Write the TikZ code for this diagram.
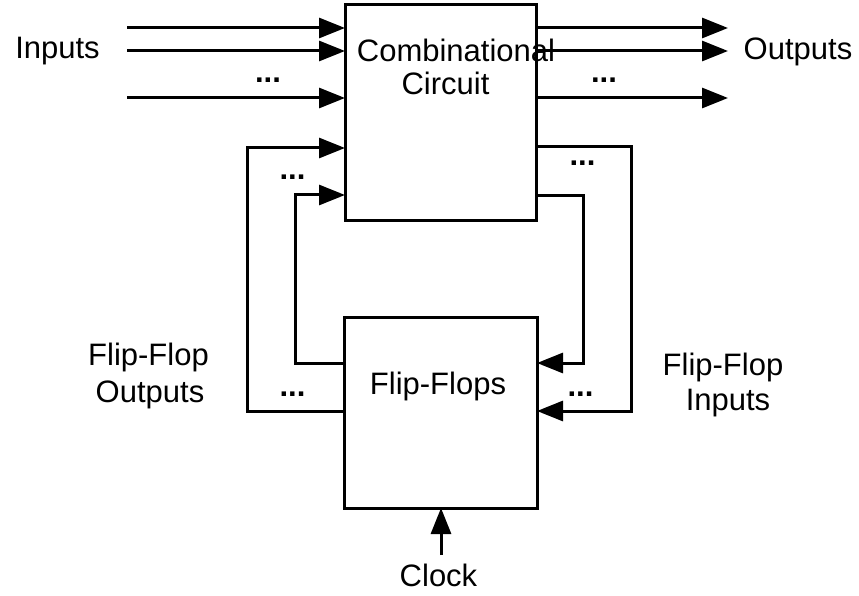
\documentclass[tikz,border=0pt]{standalone}
\usepackage{fontspec}
\setmainfont{Liberation Sans}
\usetikzlibrary{arrows.meta}
\begin{document}
\begin{tikzpicture}[x=1pt,y=-1pt,
  wire/.style={line width=3pt},
  sig/.style={wire,-{Triangle[length=26pt,width=20pt]}},
  blockbox/.style={draw,line width=3pt,inner sep=0pt,outer sep=0pt},
  lbl/.style={font=\fontsize{31}{33}\selectfont,anchor=base,inner sep=0pt},
  dots/.style={font=\fontsize{31}{33}\selectfont\bfseries,anchor=base,inner sep=0pt}]
\useasboundingbox (0,0) rectangle (859,596);
% blocks
\node[blockbox,minimum width=191pt,minimum height=215pt] (cc) at (440.5,112.5) {};
\node[blockbox,minimum width=193pt,minimum height=191pt] (ff) at (440.5,412.5) {};
% labels
\node[lbl] (t1) at (456,62) {Combinational};
\node[lbl] (t2) at (445.5,95) {Circuit};
\node[lbl] (t3) at (438,394) {Flip-Flops};
\node[lbl] (inl) at (57.5,58.5) {Inputs};
\node[lbl] (outl) at (798,60) {Outputs};
\node[lbl] (fo1) at (148.5,365) {Flip-Flop};
\node[lbl] (fo2) at (150,402) {Outputs};
\node[lbl] (fi1) at (723,375) {Flip-Flop};
\node[lbl] (fi2) at (728,410) {Inputs};
\node[lbl] (clk) at (438.5,586) {Clock};
% dots
\node[dots] (d1) at (268,83) {...};
\node[dots] (d2) at (604,83) {...};
\node[dots] (d3) at (292.5,180) {...};
\node[dots] (d4) at (582.5,166) {...};
\node[dots] (d5) at (292.5,396) {...};
\node[dots] (d6) at (580.5,396) {...};
% free ends
\coordinate (i1) at (127,28);
\coordinate (i2) at (127,51);
\coordinate (i3) at (127,98);
\coordinate (o1) at (728,28);
\coordinate (o2) at (728,51);
\coordinate (o3) at (728,98);
\coordinate (ck) at (441,555);
% inputs
\draw[sig] (i1) -- (i1 -| cc.west);
\draw[sig] (i2) -- (i2 -| cc.west);
\draw[sig] (i3) -- (i3 -| cc.west);
% outputs
\draw[sig] (o1 -| cc.east) -- (o1);
\draw[sig] (o2 -| cc.east) -- (o2);
\draw[sig] (o3 -| cc.east) -- (o3);
% feedback: flip-flop outputs
\draw[sig] (ff.west |- 0,411) -- (247,411) -- (247,148) -- (cc.west |- 0,148);
\draw[sig] (ff.west |- 0,363) -- (295,363) -- (295,195) -- (cc.west |- 0,195);
% feedback: flip-flop inputs
\draw[sig] (cc.east |- 0,147) -- (631,147) -- (631,411) -- (ff.east |- 0,411);
\draw[sig] (cc.east |- 0,196) -- (583,196) -- (583,363) -- (ff.east |- 0,363);
% clock
\draw[sig] (ck) -- (ck |- ff.south);
\end{tikzpicture}
\end{document}
